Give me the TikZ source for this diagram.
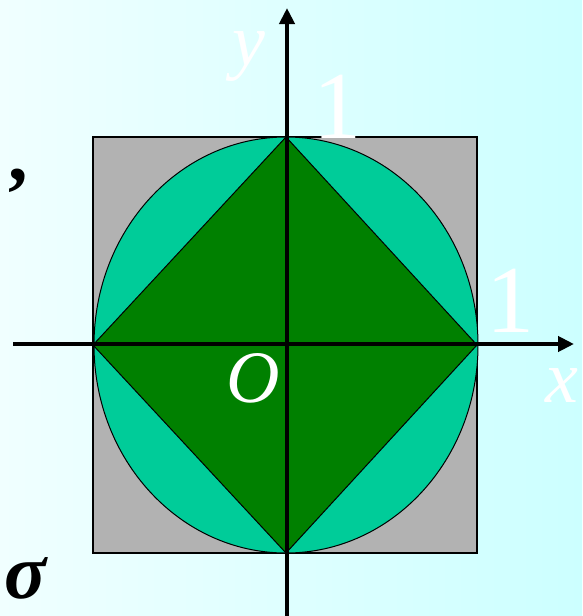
\documentclass[tikz,border=0pt]{standalone}
\usepackage{fontspec}
\setmainfont{Liberation Serif}
\usetikzlibrary{arrows.meta}
\definecolor{bgL}{RGB}{240,255,255}
\definecolor{bgR}{RGB}{204,255,255}
\definecolor{sqgray}{RGB}{178,178,178}
\definecolor{ellcol}{RGB}{0,204,153}
\definecolor{dgreen}{RGB}{0,128,0}
\tikzset{
  axis/.style={line width=4pt, -{Triangle[length=16pt,width=15pt]}},
  lbl/.style={inner sep=0pt, text=white, font=\fontsize{74}{80}\selectfont\itshape},
  numlbl/.style={inner sep=0pt, text=white, font=\fontsize{96}{100}\selectfont},
  blk/.style={inner sep=0pt, text=black, font=\fontsize{78}{84}\selectfont\bfseries},
}
\begin{document}
\begin{tikzpicture}[x=1pt,y=-1pt]
\useasboundingbox (0,0) rectangle (582,616);
\shade[left color=bgL,right color=bgR] (0,0) rectangle (582,616);
% square
\draw[fill=sqgray, line width=1.5pt] (93,137) rectangle (477,553);
% ellipse
\draw[fill=ellcol, line width=1pt] (286,345) ellipse [x radius=192, y radius=208];
% diamond
\draw[fill=dgreen, line width=1pt] (286,137) -- (477,345) -- (286,553) -- (93,345) -- cycle;
% axes
\coordinate (xl) at (13,344);
\coordinate (xr) at (574,344);
\coordinate (yb) at (287,620);
\coordinate (yt) at (287,8);
\draw[axis] (xl) -- (xr);
\draw[axis] (yb) -- (yt);
% labels
\node[lbl, anchor=base] (ly) at (249,65) {y};
\node[numlbl, anchor=base] (one1) at (337,138) {1};
\node[numlbl, anchor=base] (one2) at (510,332) {1};
\node[lbl, anchor=base] (lo) at (253,402) {O};
\node[lbl, anchor=base west] (lx) at (545,402) {x};
\node[blk, anchor=base] (comma) at (18,180) {,};
\node[blk, anchor=base west] (sig) at (4,598) {\itshape σ};
\end{tikzpicture}
\end{document}
